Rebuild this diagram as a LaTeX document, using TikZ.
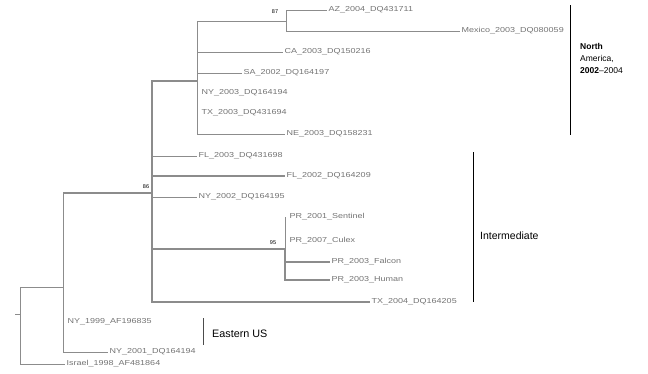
\documentclass[tikz,border=0pt]{standalone}
\usepackage{fontspec}
\setmainfont{Liberation Sans}
\newfontfamily\leaffont[FakeStretch=1.25]{Liberation Sans}
\begin{document}
\begin{tikzpicture}[x=1pt,y=-1pt,
  br/.style={draw=black!45,line width=0.7pt},
  thick br/.style={draw=black!45,line width=1.4pt},
  leaf/.style={anchor=west,inner sep=1.5pt,text=black!55,font=\leaffont\fontsize{7.2}{8}\selectfont},
  supp/.style={inner sep=0pt,font=\fontsize{5.5}{6}\selectfont},
  grp/.style={anchor=west,inner sep=0pt,align=left},
  brk/.style={draw=black,line width=0.9pt}]
\useasboundingbox (0,0) rectangle (648,373);
% internal nodes
\coordinate (stub) at (15,314);
\coordinate (r) at (20,314);
\coordinate (A) at (63,287);
\coordinate (B) at (152,193);
\coordinate (C) at (197,81);
\coordinate (E) at (286,21);
\coordinate (D) at (285,249);
% leaf ends
\coordinate (isr) at (65,364);
\coordinate (ny99) at (63,322);
\coordinate (ny01) at (108,352);
\coordinate (az) at (327,10);
\coordinate (mex) at (460,31);
\coordinate (ca) at (283,52);
\coordinate (sa) at (242,73);
\coordinate (ny03) at (197,93);
\coordinate (tx03) at (197,113);
\coordinate (ne) at (285,134);
\coordinate (fl03) at (197,156);
\coordinate (fl02) at (285,176);
\coordinate (ny02) at (197,197);
\coordinate (pr01) at (285,217);
\coordinate (pr07) at (285,241);
\coordinate (prf) at (330,262);
\coordinate (prh) at (330,280);
\coordinate (tx04) at (370,302);
% branches
\draw[br] (stub) -- (r);
\draw[br] (r) |- (A);
\draw[br] (r) |- (isr);
\draw[br] (A) |- (ny99);
\draw[br] (A) |- (ny01);
\draw[br] (A) |- (B);
\draw[thick br] (A |- B) -- (B);
\draw[thick br] (B) |- (C);
\draw[br] (B) |- (fl03);
\draw[thick br] (B) |- (fl02);
\draw[br] (B) |- (ny02);
\draw[thick br] (B) |- (D);
\draw[thick br] (B) |- (tx04);
\draw[br] (C) |- (E);
\draw[br] (C) |- (ca);
\draw[br] (C) |- (sa);
\draw[br] (C) |- (ny03);
\draw[br] (C) |- (tx03);
\draw[br] (C) |- (ne);
\draw[br] (E) |- (az);
\draw[br] (E) |- (mex);
\draw[br] (D) |- (pr01);
\draw[br] (D) |- (pr07);
\draw[thick br] (D) |- (prf);
\draw[thick br] (D) |- (prh);
% leaf labels
\node[leaf] (l-isr) at (isr) {Israel\_1998\_AF481864};
\node[leaf] (l-ny99) at ([xshift=3pt]ny99) {NY\_1999\_AF196835};
\node[leaf] (l-ny01) at (ny01) {NY\_2001\_DQ164194};
\node[leaf] (l-az) at (az) {AZ\_2004\_DQ431711};
\node[leaf] (l-mex) at (mex) {Mexico\_2003\_DQ080059};
\node[leaf] (l-ca) at (ca) {CA\_2003\_DQ150216};
\node[leaf] (l-sa) at (sa) {SA\_2002\_DQ164197};
\node[leaf] (l-ny03) at ([xshift=3pt]ny03) {NY\_2003\_DQ164194};
\node[leaf] (l-tx03) at ([xshift=3pt]tx03) {TX\_2003\_DQ431694};
\node[leaf] (l-ne) at (ne) {NE\_2003\_DQ158231};
\node[leaf] (l-fl03) at (fl03) {FL\_2003\_DQ431698};
\node[leaf] (l-fl02) at (fl02) {FL\_2002\_DQ164209};
\node[leaf] (l-ny02) at (ny02) {NY\_2002\_DQ164195};
\node[leaf] (l-pr01) at ([xshift=3pt]pr01) {PR\_2001\_Sentinel};
\node[leaf] (l-pr07) at ([xshift=3pt]pr07) {PR\_2007\_Culex};
\node[leaf] (l-prf) at (prf) {PR\_2003\_Falcon};
\node[leaf] (l-prh) at (prh) {PR\_2003\_Human};
\node[leaf] (l-tx04) at (tx04) {TX\_2004\_DQ164205};
% support values
\node[supp] (s87) at (275,12) {87};
\node[supp] (s86) at (146,187) {86};
\node[supp] (s95) at (273,243) {95};
% group brackets
\coordinate (na1) at (570,5);
\coordinate (na2) at (570,135);
\draw[brk] (na1) -- (na2);
\node[grp,font=\fontsize{8.5}{12}\selectfont] (gna) at (580,58) {\textbf{North}\\America,\\\textbf{2002}--2004};
\coordinate (in1) at (473,152);
\coordinate (in2) at (473,302);
\draw[brk] (in1) -- (in2);
\node[grp,font=\fontsize{10.5}{12}\selectfont] (gin) at (480,236) {Intermediate};
\coordinate (eu1) at (203,318);
\coordinate (eu2) at (203,345);
\draw[brk,draw=black!70] (eu1) -- (eu2);
\node[grp,font=\fontsize{10.8}{12}\selectfont] (geu) at (212,334) {Eastern US};
\end{tikzpicture}
\end{document}
